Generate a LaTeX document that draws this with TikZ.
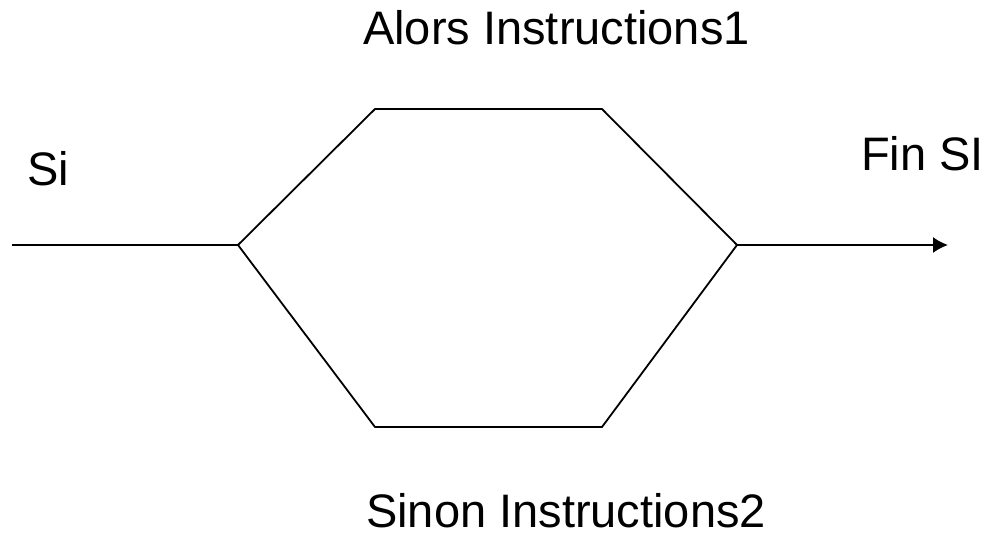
\documentclass[tikz,border=0pt]{standalone}
\usepackage{fontspec}
\setmainfont{Liberation Sans}
\usetikzlibrary{arrows.meta}
\tikzset{
    branche/.style={line width=1.8pt, line join=round},
    etiquette/.style={anchor=base west, inner sep=0pt, font=\fontsize{47}{56}\selectfont}
}
\begin{document}
\begin{tikzpicture}[x=1pt,y=-1pt,>={Latex[length=15pt,width=16pt]}]
    \useasboundingbox (0,0) rectangle (986,535);
    %Sommets de l'hexagone
    \coordinate (debut) at (12,245);
    \coordinate (G) at (238,245);
    \coordinate (HG) at (375,109);
    \coordinate (HD) at (602,109);
    \coordinate (D) at (737,245);
    \coordinate (BD) at (602,427);
    \coordinate (BG) at (375,427);
    \coordinate (fin) at (948,245);
    %Textes
    \node[etiquette] (alors) at (363,45) {Alors Instructions1};
    \node[etiquette] (si) at (27,185) {Si};
    \node[etiquette] (finsi) at (861,170) {Fin SI};
    \node[etiquette] (sinon) at (366,527) {Sinon Instructions2};
    %Les deux branches
    \draw[branche] (debut)--(G)--(HG)--(HD)--(D);
    \draw[branche] (G)--(BG)--(BD)--(D);
    \draw[branche,->] (D)--(fin);
\end{tikzpicture}
\end{document}
